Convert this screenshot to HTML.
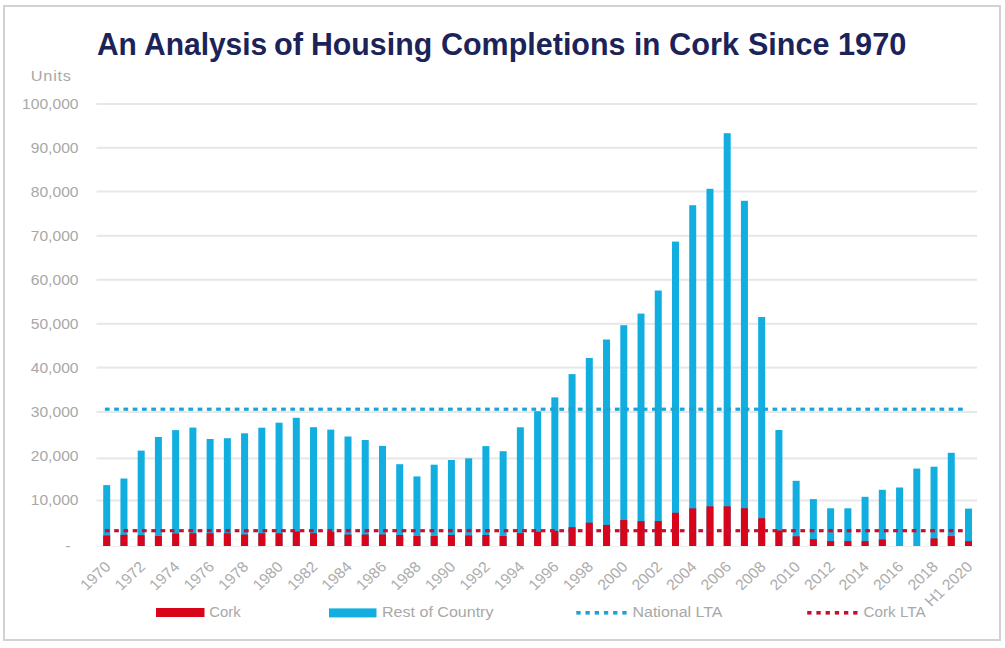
<!DOCTYPE html>
<html><head><meta charset="utf-8"><style>
html,body{margin:0;padding:0;background:#fff;}
body{width:1005px;height:648px;position:relative;overflow:hidden;font-family:"Liberation Sans",sans-serif;}
.frame{position:absolute;left:3px;top:5px;width:994px;height:632px;border:2px solid #d2d2d2;}
.tw{position:absolute;top:28.1px;font-size:31.2px;font-weight:bold;color:#1b2358;white-space:nowrap;line-height:34px;transform-origin:0 0;}
svg{position:absolute;left:0;top:0;}
.yl{font-size:14.8px;fill:#a8a8a8;}
.xl{font-size:14.8px;fill:#acacac;}
.lg{font-size:15.3px;fill:#a8a8a8;}
</style></head><body>
<div class="frame"></div>
<svg width="1005" height="648" viewBox="0 0 1005 648">
<rect x="96.5" y="499.50" width="880.5" height="2" fill="#e7e7e7"/>
<rect x="96.5" y="457.40" width="880.5" height="2" fill="#e7e7e7"/>
<rect x="96.5" y="411.00" width="880.5" height="2" fill="#e7e7e7"/>
<rect x="96.5" y="366.60" width="880.5" height="2" fill="#e7e7e7"/>
<rect x="96.5" y="322.80" width="880.5" height="2" fill="#e7e7e7"/>
<rect x="96.5" y="278.80" width="880.5" height="2" fill="#e7e7e7"/>
<rect x="96.5" y="234.80" width="880.5" height="2" fill="#e7e7e7"/>
<rect x="96.5" y="190.50" width="880.5" height="2" fill="#e7e7e7"/>
<rect x="96.5" y="146.80" width="880.5" height="2" fill="#e7e7e7"/>
<rect x="96.5" y="103.00" width="880.5" height="2" fill="#e7e7e7"/>
<rect x="96.5" y="546.00" width="880.5" height="1" fill="#f0f0f0"/>
<text x="0" y="0" class="yl" text-anchor="end" transform="translate(78.5 505.40) scale(1.055 1)">10,000</text>
<text x="0" y="0" class="yl" text-anchor="end" transform="translate(78.5 461.30) scale(1.055 1)">20,000</text>
<text x="0" y="0" class="yl" text-anchor="end" transform="translate(78.5 417.20) scale(1.055 1)">30,000</text>
<text x="0" y="0" class="yl" text-anchor="end" transform="translate(78.5 373.10) scale(1.055 1)">40,000</text>
<text x="0" y="0" class="yl" text-anchor="end" transform="translate(78.5 329.00) scale(1.055 1)">50,000</text>
<text x="0" y="0" class="yl" text-anchor="end" transform="translate(78.5 284.90) scale(1.055 1)">60,000</text>
<text x="0" y="0" class="yl" text-anchor="end" transform="translate(78.5 240.80) scale(1.055 1)">70,000</text>
<text x="0" y="0" class="yl" text-anchor="end" transform="translate(78.5 196.70) scale(1.055 1)">80,000</text>
<text x="0" y="0" class="yl" text-anchor="end" transform="translate(78.5 152.60) scale(1.055 1)">90,000</text>
<text x="0" y="0" class="yl" text-anchor="end" transform="translate(78.5 108.50) scale(1.055 1)">100,000</text>
<text x="70.5" y="550.5" class="yl" text-anchor="end">-</text>
<text x="0" y="0" class="yl" transform="translate(30.8 80.6) scale(1.1 1)" style="letter-spacing:0.7px">Units</text>
<rect x="103.20" y="485.10" width="7.0" height="60.90" fill="#12aee0"/>
<rect x="103.20" y="535.50" width="7.0" height="10.50" fill="#d8041a"/>
<rect x="120.44" y="478.50" width="7.0" height="67.50" fill="#12aee0"/>
<rect x="120.44" y="534.80" width="7.0" height="11.20" fill="#d8041a"/>
<rect x="137.67" y="450.60" width="7.0" height="95.40" fill="#12aee0"/>
<rect x="137.67" y="535.20" width="7.0" height="10.80" fill="#d8041a"/>
<rect x="154.91" y="437.00" width="7.0" height="109.00" fill="#12aee0"/>
<rect x="154.91" y="536.00" width="7.0" height="10.00" fill="#d8041a"/>
<rect x="172.14" y="430.10" width="7.0" height="115.90" fill="#12aee0"/>
<rect x="172.14" y="533.50" width="7.0" height="12.50" fill="#d8041a"/>
<rect x="189.38" y="427.60" width="7.0" height="118.40" fill="#12aee0"/>
<rect x="189.38" y="533.30" width="7.0" height="12.70" fill="#d8041a"/>
<rect x="206.62" y="439.00" width="7.0" height="107.00" fill="#12aee0"/>
<rect x="206.62" y="533.30" width="7.0" height="12.70" fill="#d8041a"/>
<rect x="223.85" y="438.20" width="7.0" height="107.80" fill="#12aee0"/>
<rect x="223.85" y="533.30" width="7.0" height="12.70" fill="#d8041a"/>
<rect x="241.09" y="433.30" width="7.0" height="112.70" fill="#12aee0"/>
<rect x="241.09" y="534.60" width="7.0" height="11.40" fill="#d8041a"/>
<rect x="258.32" y="427.70" width="7.0" height="118.30" fill="#12aee0"/>
<rect x="258.32" y="533.30" width="7.0" height="12.70" fill="#d8041a"/>
<rect x="275.56" y="422.70" width="7.0" height="123.30" fill="#12aee0"/>
<rect x="275.56" y="533.30" width="7.0" height="12.70" fill="#d8041a"/>
<rect x="292.80" y="417.80" width="7.0" height="128.20" fill="#12aee0"/>
<rect x="292.80" y="531.50" width="7.0" height="14.50" fill="#d8041a"/>
<rect x="310.03" y="427.20" width="7.0" height="118.80" fill="#12aee0"/>
<rect x="310.03" y="533.30" width="7.0" height="12.70" fill="#d8041a"/>
<rect x="327.27" y="429.60" width="7.0" height="116.40" fill="#12aee0"/>
<rect x="327.27" y="532.00" width="7.0" height="14.00" fill="#d8041a"/>
<rect x="344.50" y="436.50" width="7.0" height="109.50" fill="#12aee0"/>
<rect x="344.50" y="534.60" width="7.0" height="11.40" fill="#d8041a"/>
<rect x="361.74" y="440.00" width="7.0" height="106.00" fill="#12aee0"/>
<rect x="361.74" y="534.60" width="7.0" height="11.40" fill="#d8041a"/>
<rect x="378.98" y="445.90" width="7.0" height="100.10" fill="#12aee0"/>
<rect x="378.98" y="534.50" width="7.0" height="11.50" fill="#d8041a"/>
<rect x="396.21" y="464.20" width="7.0" height="81.80" fill="#12aee0"/>
<rect x="396.21" y="535.00" width="7.0" height="11.00" fill="#d8041a"/>
<rect x="413.45" y="476.40" width="7.0" height="69.60" fill="#12aee0"/>
<rect x="413.45" y="536.00" width="7.0" height="10.00" fill="#d8041a"/>
<rect x="430.68" y="464.70" width="7.0" height="81.30" fill="#12aee0"/>
<rect x="430.68" y="536.00" width="7.0" height="10.00" fill="#d8041a"/>
<rect x="447.92" y="460.00" width="7.0" height="86.00" fill="#12aee0"/>
<rect x="447.92" y="535.00" width="7.0" height="11.00" fill="#d8041a"/>
<rect x="465.16" y="458.30" width="7.0" height="87.70" fill="#12aee0"/>
<rect x="465.16" y="535.50" width="7.0" height="10.50" fill="#d8041a"/>
<rect x="482.39" y="446.10" width="7.0" height="99.90" fill="#12aee0"/>
<rect x="482.39" y="535.00" width="7.0" height="11.00" fill="#d8041a"/>
<rect x="499.63" y="451.20" width="7.0" height="94.80" fill="#12aee0"/>
<rect x="499.63" y="536.00" width="7.0" height="10.00" fill="#d8041a"/>
<rect x="516.86" y="427.30" width="7.0" height="118.70" fill="#12aee0"/>
<rect x="516.86" y="533.20" width="7.0" height="12.80" fill="#d8041a"/>
<rect x="534.10" y="411.20" width="7.0" height="134.80" fill="#12aee0"/>
<rect x="534.10" y="531.80" width="7.0" height="14.20" fill="#d8041a"/>
<rect x="551.34" y="397.40" width="7.0" height="148.60" fill="#12aee0"/>
<rect x="551.34" y="530.80" width="7.0" height="15.20" fill="#d8041a"/>
<rect x="568.57" y="374.10" width="7.0" height="171.90" fill="#12aee0"/>
<rect x="568.57" y="527.20" width="7.0" height="18.80" fill="#d8041a"/>
<rect x="585.81" y="358.00" width="7.0" height="188.00" fill="#12aee0"/>
<rect x="585.81" y="522.70" width="7.0" height="23.30" fill="#d8041a"/>
<rect x="603.04" y="339.50" width="7.0" height="206.50" fill="#12aee0"/>
<rect x="603.04" y="524.90" width="7.0" height="21.10" fill="#d8041a"/>
<rect x="620.28" y="325.20" width="7.0" height="220.80" fill="#12aee0"/>
<rect x="620.28" y="520.00" width="7.0" height="26.00" fill="#d8041a"/>
<rect x="637.52" y="313.60" width="7.0" height="232.40" fill="#12aee0"/>
<rect x="637.52" y="521.10" width="7.0" height="24.90" fill="#d8041a"/>
<rect x="654.75" y="290.50" width="7.0" height="255.50" fill="#12aee0"/>
<rect x="654.75" y="521.10" width="7.0" height="24.90" fill="#d8041a"/>
<rect x="671.99" y="241.60" width="7.0" height="304.40" fill="#12aee0"/>
<rect x="671.99" y="512.80" width="7.0" height="33.20" fill="#d8041a"/>
<rect x="689.22" y="205.20" width="7.0" height="340.80" fill="#12aee0"/>
<rect x="689.22" y="508.40" width="7.0" height="37.60" fill="#d8041a"/>
<rect x="706.46" y="188.80" width="7.0" height="357.20" fill="#12aee0"/>
<rect x="706.46" y="506.30" width="7.0" height="39.70" fill="#d8041a"/>
<rect x="723.70" y="133.20" width="7.0" height="412.80" fill="#12aee0"/>
<rect x="723.70" y="506.30" width="7.0" height="39.70" fill="#d8041a"/>
<rect x="740.93" y="200.80" width="7.0" height="345.20" fill="#12aee0"/>
<rect x="740.93" y="508.20" width="7.0" height="37.80" fill="#d8041a"/>
<rect x="758.17" y="317.00" width="7.0" height="229.00" fill="#12aee0"/>
<rect x="758.17" y="518.20" width="7.0" height="27.80" fill="#d8041a"/>
<rect x="775.40" y="430.00" width="7.0" height="116.00" fill="#12aee0"/>
<rect x="775.40" y="530.50" width="7.0" height="15.50" fill="#d8041a"/>
<rect x="792.64" y="480.80" width="7.0" height="65.20" fill="#12aee0"/>
<rect x="792.64" y="536.30" width="7.0" height="9.70" fill="#d8041a"/>
<rect x="809.88" y="499.10" width="7.0" height="46.90" fill="#12aee0"/>
<rect x="809.88" y="539.20" width="7.0" height="6.80" fill="#d8041a"/>
<rect x="827.11" y="508.30" width="7.0" height="37.70" fill="#12aee0"/>
<rect x="827.11" y="541.10" width="7.0" height="4.90" fill="#d8041a"/>
<rect x="844.35" y="508.30" width="7.0" height="37.70" fill="#12aee0"/>
<rect x="844.35" y="541.10" width="7.0" height="4.90" fill="#d8041a"/>
<rect x="861.58" y="496.80" width="7.0" height="49.20" fill="#12aee0"/>
<rect x="861.58" y="541.10" width="7.0" height="4.90" fill="#d8041a"/>
<rect x="878.82" y="489.80" width="7.0" height="56.20" fill="#12aee0"/>
<rect x="878.82" y="539.50" width="7.0" height="6.50" fill="#d8041a"/>
<rect x="896.06" y="487.50" width="7.0" height="58.50" fill="#12aee0"/>
<rect x="913.29" y="468.60" width="7.0" height="77.40" fill="#12aee0"/>
<rect x="930.53" y="466.70" width="7.0" height="79.30" fill="#12aee0"/>
<rect x="930.53" y="538.40" width="7.0" height="7.60" fill="#d8041a"/>
<rect x="947.76" y="452.80" width="7.0" height="93.20" fill="#12aee0"/>
<rect x="947.76" y="536.10" width="7.0" height="9.90" fill="#d8041a"/>
<rect x="965.00" y="508.60" width="7.0" height="37.40" fill="#12aee0"/>
<rect x="965.00" y="541.20" width="7.0" height="4.80" fill="#d8041a"/>
<rect x="104.90" y="407.60" width="4.7" height="3.2" fill="#1aa3d6"/><rect x="114.17" y="407.60" width="4.7" height="3.2" fill="#1aa3d6"/><rect x="123.45" y="407.60" width="4.7" height="3.2" fill="#1aa3d6"/><rect x="132.72" y="407.60" width="4.7" height="3.2" fill="#1aa3d6"/><rect x="141.99" y="407.60" width="4.7" height="3.2" fill="#1aa3d6"/><rect x="151.26" y="407.60" width="4.7" height="3.2" fill="#1aa3d6"/><rect x="160.54" y="407.60" width="4.7" height="3.2" fill="#1aa3d6"/><rect x="169.81" y="407.60" width="4.7" height="3.2" fill="#1aa3d6"/><rect x="179.08" y="407.60" width="4.7" height="3.2" fill="#1aa3d6"/><rect x="188.36" y="407.60" width="4.7" height="3.2" fill="#1aa3d6"/><rect x="197.63" y="407.60" width="4.7" height="3.2" fill="#1aa3d6"/><rect x="206.90" y="407.60" width="4.7" height="3.2" fill="#1aa3d6"/><rect x="216.18" y="407.60" width="4.7" height="3.2" fill="#1aa3d6"/><rect x="225.45" y="407.60" width="4.7" height="3.2" fill="#1aa3d6"/><rect x="234.72" y="407.60" width="4.7" height="3.2" fill="#1aa3d6"/><rect x="244.00" y="407.60" width="4.7" height="3.2" fill="#1aa3d6"/><rect x="253.27" y="407.60" width="4.7" height="3.2" fill="#1aa3d6"/><rect x="262.54" y="407.60" width="4.7" height="3.2" fill="#1aa3d6"/><rect x="271.81" y="407.60" width="4.7" height="3.2" fill="#1aa3d6"/><rect x="281.09" y="407.60" width="4.7" height="3.2" fill="#1aa3d6"/><rect x="290.36" y="407.60" width="4.7" height="3.2" fill="#1aa3d6"/><rect x="299.63" y="407.60" width="4.7" height="3.2" fill="#1aa3d6"/><rect x="308.91" y="407.60" width="4.7" height="3.2" fill="#1aa3d6"/><rect x="318.18" y="407.60" width="4.7" height="3.2" fill="#1aa3d6"/><rect x="327.45" y="407.60" width="4.7" height="3.2" fill="#1aa3d6"/><rect x="336.73" y="407.60" width="4.7" height="3.2" fill="#1aa3d6"/><rect x="346.00" y="407.60" width="4.7" height="3.2" fill="#1aa3d6"/><rect x="355.27" y="407.60" width="4.7" height="3.2" fill="#1aa3d6"/><rect x="364.54" y="407.60" width="4.7" height="3.2" fill="#1aa3d6"/><rect x="373.82" y="407.60" width="4.7" height="3.2" fill="#1aa3d6"/><rect x="383.09" y="407.60" width="4.7" height="3.2" fill="#1aa3d6"/><rect x="392.36" y="407.60" width="4.7" height="3.2" fill="#1aa3d6"/><rect x="401.64" y="407.60" width="4.7" height="3.2" fill="#1aa3d6"/><rect x="410.91" y="407.60" width="4.7" height="3.2" fill="#1aa3d6"/><rect x="420.18" y="407.60" width="4.7" height="3.2" fill="#1aa3d6"/><rect x="429.46" y="407.60" width="4.7" height="3.2" fill="#1aa3d6"/><rect x="438.73" y="407.60" width="4.7" height="3.2" fill="#1aa3d6"/><rect x="448.00" y="407.60" width="4.7" height="3.2" fill="#1aa3d6"/><rect x="457.27" y="407.60" width="4.7" height="3.2" fill="#1aa3d6"/><rect x="466.55" y="407.60" width="4.7" height="3.2" fill="#1aa3d6"/><rect x="475.82" y="407.60" width="4.7" height="3.2" fill="#1aa3d6"/><rect x="485.09" y="407.60" width="4.7" height="3.2" fill="#1aa3d6"/><rect x="494.37" y="407.60" width="4.7" height="3.2" fill="#1aa3d6"/><rect x="503.64" y="407.60" width="4.7" height="3.2" fill="#1aa3d6"/><rect x="512.91" y="407.60" width="4.7" height="3.2" fill="#1aa3d6"/><rect x="522.18" y="407.60" width="4.7" height="3.2" fill="#1aa3d6"/><rect x="531.46" y="407.60" width="4.7" height="3.2" fill="#1aa3d6"/><rect x="540.73" y="407.60" width="4.7" height="3.2" fill="#1aa3d6"/><rect x="550.00" y="407.60" width="4.7" height="3.2" fill="#1aa3d6"/><rect x="559.28" y="407.60" width="4.7" height="3.2" fill="#1aa3d6"/><rect x="568.55" y="407.60" width="4.7" height="3.2" fill="#1aa3d6"/><rect x="577.82" y="407.60" width="4.7" height="3.2" fill="#1aa3d6"/><rect x="587.10" y="407.60" width="4.7" height="3.2" fill="#1aa3d6"/><rect x="596.37" y="407.60" width="4.7" height="3.2" fill="#1aa3d6"/><rect x="605.64" y="407.60" width="4.7" height="3.2" fill="#1aa3d6"/><rect x="614.91" y="407.60" width="4.7" height="3.2" fill="#1aa3d6"/><rect x="624.19" y="407.60" width="4.7" height="3.2" fill="#1aa3d6"/><rect x="633.46" y="407.60" width="4.7" height="3.2" fill="#1aa3d6"/><rect x="642.73" y="407.60" width="4.7" height="3.2" fill="#1aa3d6"/><rect x="652.01" y="407.60" width="4.7" height="3.2" fill="#1aa3d6"/><rect x="661.28" y="407.60" width="4.7" height="3.2" fill="#1aa3d6"/><rect x="670.55" y="407.60" width="4.7" height="3.2" fill="#1aa3d6"/><rect x="679.83" y="407.60" width="4.7" height="3.2" fill="#1aa3d6"/><rect x="689.10" y="407.60" width="4.7" height="3.2" fill="#1aa3d6"/><rect x="698.37" y="407.60" width="4.7" height="3.2" fill="#1aa3d6"/><rect x="707.64" y="407.60" width="4.7" height="3.2" fill="#1aa3d6"/><rect x="716.92" y="407.60" width="4.7" height="3.2" fill="#1aa3d6"/><rect x="726.19" y="407.60" width="4.7" height="3.2" fill="#1aa3d6"/><rect x="735.46" y="407.60" width="4.7" height="3.2" fill="#1aa3d6"/><rect x="744.74" y="407.60" width="4.7" height="3.2" fill="#1aa3d6"/><rect x="754.01" y="407.60" width="4.7" height="3.2" fill="#1aa3d6"/><rect x="763.28" y="407.60" width="4.7" height="3.2" fill="#1aa3d6"/><rect x="772.56" y="407.60" width="4.7" height="3.2" fill="#1aa3d6"/><rect x="781.83" y="407.60" width="4.7" height="3.2" fill="#1aa3d6"/><rect x="791.10" y="407.60" width="4.7" height="3.2" fill="#1aa3d6"/><rect x="800.38" y="407.60" width="4.7" height="3.2" fill="#1aa3d6"/><rect x="809.65" y="407.60" width="4.7" height="3.2" fill="#1aa3d6"/><rect x="818.92" y="407.60" width="4.7" height="3.2" fill="#1aa3d6"/><rect x="828.19" y="407.60" width="4.7" height="3.2" fill="#1aa3d6"/><rect x="837.47" y="407.60" width="4.7" height="3.2" fill="#1aa3d6"/><rect x="846.74" y="407.60" width="4.7" height="3.2" fill="#1aa3d6"/><rect x="856.01" y="407.60" width="4.7" height="3.2" fill="#1aa3d6"/><rect x="865.29" y="407.60" width="4.7" height="3.2" fill="#1aa3d6"/><rect x="874.56" y="407.60" width="4.7" height="3.2" fill="#1aa3d6"/><rect x="883.83" y="407.60" width="4.7" height="3.2" fill="#1aa3d6"/><rect x="893.10" y="407.60" width="4.7" height="3.2" fill="#1aa3d6"/><rect x="902.38" y="407.60" width="4.7" height="3.2" fill="#1aa3d6"/><rect x="911.65" y="407.60" width="4.7" height="3.2" fill="#1aa3d6"/><rect x="920.92" y="407.60" width="4.7" height="3.2" fill="#1aa3d6"/><rect x="930.20" y="407.60" width="4.7" height="3.2" fill="#1aa3d6"/><rect x="939.47" y="407.60" width="4.7" height="3.2" fill="#1aa3d6"/><rect x="948.74" y="407.60" width="4.7" height="3.2" fill="#1aa3d6"/><rect x="958.02" y="407.60" width="4.7" height="3.2" fill="#1aa3d6"/>
<rect x="104.90" y="529.10" width="4.7" height="3.2" fill="#c8102e"/><rect x="114.17" y="529.10" width="4.7" height="3.2" fill="#c8102e"/><rect x="123.45" y="529.10" width="4.7" height="3.2" fill="#c8102e"/><rect x="132.72" y="529.10" width="4.7" height="3.2" fill="#c8102e"/><rect x="141.99" y="529.10" width="4.7" height="3.2" fill="#c8102e"/><rect x="151.26" y="529.10" width="4.7" height="3.2" fill="#c8102e"/><rect x="160.54" y="529.10" width="4.7" height="3.2" fill="#c8102e"/><rect x="169.81" y="529.10" width="4.7" height="3.2" fill="#c8102e"/><rect x="179.08" y="529.10" width="4.7" height="3.2" fill="#c8102e"/><rect x="188.36" y="529.10" width="4.7" height="3.2" fill="#c8102e"/><rect x="197.63" y="529.10" width="4.7" height="3.2" fill="#c8102e"/><rect x="206.90" y="529.10" width="4.7" height="3.2" fill="#c8102e"/><rect x="216.18" y="529.10" width="4.7" height="3.2" fill="#c8102e"/><rect x="225.45" y="529.10" width="4.7" height="3.2" fill="#c8102e"/><rect x="234.72" y="529.10" width="4.7" height="3.2" fill="#c8102e"/><rect x="244.00" y="529.10" width="4.7" height="3.2" fill="#c8102e"/><rect x="253.27" y="529.10" width="4.7" height="3.2" fill="#c8102e"/><rect x="262.54" y="529.10" width="4.7" height="3.2" fill="#c8102e"/><rect x="271.81" y="529.10" width="4.7" height="3.2" fill="#c8102e"/><rect x="281.09" y="529.10" width="4.7" height="3.2" fill="#c8102e"/><rect x="290.36" y="529.10" width="4.7" height="3.2" fill="#c8102e"/><rect x="299.63" y="529.10" width="4.7" height="3.2" fill="#c8102e"/><rect x="308.91" y="529.10" width="4.7" height="3.2" fill="#c8102e"/><rect x="318.18" y="529.10" width="4.7" height="3.2" fill="#c8102e"/><rect x="327.45" y="529.10" width="4.7" height="3.2" fill="#c8102e"/><rect x="336.73" y="529.10" width="4.7" height="3.2" fill="#c8102e"/><rect x="346.00" y="529.10" width="4.7" height="3.2" fill="#c8102e"/><rect x="355.27" y="529.10" width="4.7" height="3.2" fill="#c8102e"/><rect x="364.54" y="529.10" width="4.7" height="3.2" fill="#c8102e"/><rect x="373.82" y="529.10" width="4.7" height="3.2" fill="#c8102e"/><rect x="383.09" y="529.10" width="4.7" height="3.2" fill="#c8102e"/><rect x="392.36" y="529.10" width="4.7" height="3.2" fill="#c8102e"/><rect x="401.64" y="529.10" width="4.7" height="3.2" fill="#c8102e"/><rect x="410.91" y="529.10" width="4.7" height="3.2" fill="#c8102e"/><rect x="420.18" y="529.10" width="4.7" height="3.2" fill="#c8102e"/><rect x="429.46" y="529.10" width="4.7" height="3.2" fill="#c8102e"/><rect x="438.73" y="529.10" width="4.7" height="3.2" fill="#c8102e"/><rect x="448.00" y="529.10" width="4.7" height="3.2" fill="#c8102e"/><rect x="457.27" y="529.10" width="4.7" height="3.2" fill="#c8102e"/><rect x="466.55" y="529.10" width="4.7" height="3.2" fill="#c8102e"/><rect x="475.82" y="529.10" width="4.7" height="3.2" fill="#c8102e"/><rect x="485.09" y="529.10" width="4.7" height="3.2" fill="#c8102e"/><rect x="494.37" y="529.10" width="4.7" height="3.2" fill="#c8102e"/><rect x="503.64" y="529.10" width="4.7" height="3.2" fill="#c8102e"/><rect x="512.91" y="529.10" width="4.7" height="3.2" fill="#c8102e"/><rect x="522.18" y="529.10" width="4.7" height="3.2" fill="#c8102e"/><rect x="531.46" y="529.10" width="4.7" height="3.2" fill="#c8102e"/><rect x="540.73" y="529.10" width="4.7" height="3.2" fill="#c8102e"/><rect x="550.00" y="529.10" width="4.7" height="3.2" fill="#c8102e"/><rect x="559.28" y="529.10" width="4.7" height="3.2" fill="#c8102e"/><rect x="568.55" y="529.10" width="4.7" height="3.2" fill="#c8102e"/><rect x="577.82" y="529.10" width="4.7" height="3.2" fill="#c8102e"/><rect x="587.10" y="529.10" width="4.7" height="3.2" fill="#c8102e"/><rect x="596.37" y="529.10" width="4.7" height="3.2" fill="#c8102e"/><rect x="605.64" y="529.10" width="4.7" height="3.2" fill="#c8102e"/><rect x="614.91" y="529.10" width="4.7" height="3.2" fill="#c8102e"/><rect x="624.19" y="529.10" width="4.7" height="3.2" fill="#c8102e"/><rect x="633.46" y="529.10" width="4.7" height="3.2" fill="#c8102e"/><rect x="642.73" y="529.10" width="4.7" height="3.2" fill="#c8102e"/><rect x="652.01" y="529.10" width="4.7" height="3.2" fill="#c8102e"/><rect x="661.28" y="529.10" width="4.7" height="3.2" fill="#c8102e"/><rect x="670.55" y="529.10" width="4.7" height="3.2" fill="#c8102e"/><rect x="679.83" y="529.10" width="4.7" height="3.2" fill="#c8102e"/><rect x="689.10" y="529.10" width="4.7" height="3.2" fill="#c8102e"/><rect x="698.37" y="529.10" width="4.7" height="3.2" fill="#c8102e"/><rect x="707.64" y="529.10" width="4.7" height="3.2" fill="#c8102e"/><rect x="716.92" y="529.10" width="4.7" height="3.2" fill="#c8102e"/><rect x="726.19" y="529.10" width="4.7" height="3.2" fill="#c8102e"/><rect x="735.46" y="529.10" width="4.7" height="3.2" fill="#c8102e"/><rect x="744.74" y="529.10" width="4.7" height="3.2" fill="#c8102e"/><rect x="754.01" y="529.10" width="4.7" height="3.2" fill="#c8102e"/><rect x="763.28" y="529.10" width="4.7" height="3.2" fill="#c8102e"/><rect x="772.56" y="529.10" width="4.7" height="3.2" fill="#c8102e"/><rect x="781.83" y="529.10" width="4.7" height="3.2" fill="#c8102e"/><rect x="791.10" y="529.10" width="4.7" height="3.2" fill="#c8102e"/><rect x="800.38" y="529.10" width="4.7" height="3.2" fill="#c8102e"/><rect x="809.65" y="529.10" width="4.7" height="3.2" fill="#c8102e"/><rect x="818.92" y="529.10" width="4.7" height="3.2" fill="#c8102e"/><rect x="828.19" y="529.10" width="4.7" height="3.2" fill="#c8102e"/><rect x="837.47" y="529.10" width="4.7" height="3.2" fill="#c8102e"/><rect x="846.74" y="529.10" width="4.7" height="3.2" fill="#c8102e"/><rect x="856.01" y="529.10" width="4.7" height="3.2" fill="#c8102e"/><rect x="865.29" y="529.10" width="4.7" height="3.2" fill="#c8102e"/><rect x="874.56" y="529.10" width="4.7" height="3.2" fill="#c8102e"/><rect x="883.83" y="529.10" width="4.7" height="3.2" fill="#c8102e"/><rect x="893.10" y="529.10" width="4.7" height="3.2" fill="#c8102e"/><rect x="902.38" y="529.10" width="4.7" height="3.2" fill="#c8102e"/><rect x="911.65" y="529.10" width="4.7" height="3.2" fill="#c8102e"/><rect x="920.92" y="529.10" width="4.7" height="3.2" fill="#c8102e"/><rect x="930.20" y="529.10" width="4.7" height="3.2" fill="#c8102e"/><rect x="939.47" y="529.10" width="4.7" height="3.2" fill="#c8102e"/><rect x="948.74" y="529.10" width="4.7" height="3.2" fill="#c8102e"/><rect x="958.02" y="529.10" width="4.7" height="3.2" fill="#c8102e"/>
<text x="0" y="0" class="xl" text-anchor="end" transform="translate(111.70 567.80) scale(1.07 1) rotate(-45)">1970</text>
<text x="0" y="0" class="xl" text-anchor="end" transform="translate(146.17 567.80) scale(1.07 1) rotate(-45)">1972</text>
<text x="0" y="0" class="xl" text-anchor="end" transform="translate(180.64 567.80) scale(1.07 1) rotate(-45)">1974</text>
<text x="0" y="0" class="xl" text-anchor="end" transform="translate(215.12 567.80) scale(1.07 1) rotate(-45)">1976</text>
<text x="0" y="0" class="xl" text-anchor="end" transform="translate(249.59 567.80) scale(1.07 1) rotate(-45)">1978</text>
<text x="0" y="0" class="xl" text-anchor="end" transform="translate(284.06 567.80) scale(1.07 1) rotate(-45)">1980</text>
<text x="0" y="0" class="xl" text-anchor="end" transform="translate(318.53 567.80) scale(1.07 1) rotate(-45)">1982</text>
<text x="0" y="0" class="xl" text-anchor="end" transform="translate(353.00 567.80) scale(1.07 1) rotate(-45)">1984</text>
<text x="0" y="0" class="xl" text-anchor="end" transform="translate(387.48 567.80) scale(1.07 1) rotate(-45)">1986</text>
<text x="0" y="0" class="xl" text-anchor="end" transform="translate(421.95 567.80) scale(1.07 1) rotate(-45)">1988</text>
<text x="0" y="0" class="xl" text-anchor="end" transform="translate(456.42 567.80) scale(1.07 1) rotate(-45)">1990</text>
<text x="0" y="0" class="xl" text-anchor="end" transform="translate(490.89 567.80) scale(1.07 1) rotate(-45)">1992</text>
<text x="0" y="0" class="xl" text-anchor="end" transform="translate(525.36 567.80) scale(1.07 1) rotate(-45)">1994</text>
<text x="0" y="0" class="xl" text-anchor="end" transform="translate(559.84 567.80) scale(1.07 1) rotate(-45)">1996</text>
<text x="0" y="0" class="xl" text-anchor="end" transform="translate(594.31 567.80) scale(1.07 1) rotate(-45)">1998</text>
<text x="0" y="0" class="xl" text-anchor="end" transform="translate(628.78 567.80) scale(1.07 1) rotate(-45)">2000</text>
<text x="0" y="0" class="xl" text-anchor="end" transform="translate(663.25 567.80) scale(1.07 1) rotate(-45)">2002</text>
<text x="0" y="0" class="xl" text-anchor="end" transform="translate(697.72 567.80) scale(1.07 1) rotate(-45)">2004</text>
<text x="0" y="0" class="xl" text-anchor="end" transform="translate(732.20 567.80) scale(1.07 1) rotate(-45)">2006</text>
<text x="0" y="0" class="xl" text-anchor="end" transform="translate(766.67 567.80) scale(1.07 1) rotate(-45)">2008</text>
<text x="0" y="0" class="xl" text-anchor="end" transform="translate(801.14 567.80) scale(1.07 1) rotate(-45)">2010</text>
<text x="0" y="0" class="xl" text-anchor="end" transform="translate(835.61 567.80) scale(1.07 1) rotate(-45)">2012</text>
<text x="0" y="0" class="xl" text-anchor="end" transform="translate(870.08 567.80) scale(1.07 1) rotate(-45)">2014</text>
<text x="0" y="0" class="xl" text-anchor="end" transform="translate(904.56 567.80) scale(1.07 1) rotate(-45)">2016</text>
<text x="0" y="0" class="xl" text-anchor="end" transform="translate(939.03 567.80) scale(1.07 1) rotate(-45)">2018</text>
<text x="0" y="0" class="xl" text-anchor="end" transform="translate(973.50 567.80) scale(1.07 1) rotate(-45)">H1 2020</text>
<rect x="156" y="608" width="48.5" height="9" fill="#d8041a"/>
<text x="209.3" y="617" class="lg" textLength="31.5" lengthAdjust="spacingAndGlyphs">Cork</text>
<rect x="329" y="608.4" width="47.5" height="9" fill="#12aee0"/>
<text x="382" y="617" class="lg" textLength="111.5" lengthAdjust="spacingAndGlyphs">Rest of Country</text>
<rect x="576.30" y="611" width="4.3" height="3.6" fill="#1aa3d6"/>
<rect x="585.50" y="611" width="4.3" height="3.6" fill="#1aa3d6"/>
<rect x="594.70" y="611" width="4.3" height="3.6" fill="#1aa3d6"/>
<rect x="603.90" y="611" width="4.3" height="3.6" fill="#1aa3d6"/>
<rect x="613.10" y="611" width="4.3" height="3.6" fill="#1aa3d6"/>
<rect x="622.30" y="611" width="4.3" height="3.6" fill="#1aa3d6"/>
<text x="632.5" y="617" class="lg" textLength="90" lengthAdjust="spacingAndGlyphs">National LTA</text>
<rect x="807.20" y="611" width="4.3" height="3.6" fill="#c8102e"/>
<rect x="816.40" y="611" width="4.3" height="3.6" fill="#c8102e"/>
<rect x="825.60" y="611" width="4.3" height="3.6" fill="#c8102e"/>
<rect x="834.80" y="611" width="4.3" height="3.6" fill="#c8102e"/>
<rect x="844.00" y="611" width="4.3" height="3.6" fill="#c8102e"/>
<rect x="853.20" y="611" width="4.3" height="3.6" fill="#c8102e"/>
<text x="863.6" y="617" class="lg" textLength="62" lengthAdjust="spacingAndGlyphs">Cork LTA</text>
</svg>
<div class="tw" style="left:96.74px;transform:scaleX(0.9590)">An</div>
<div class="tw" style="left:143.64px;transform:scaleX(0.9611)">Analysis</div>
<div class="tw" style="left:274.48px;transform:scaleX(0.9850)">of</div>
<div class="tw" style="left:311.36px;transform:scaleX(0.9711)">Housing</div>
<div class="tw" style="left:441.12px;transform:scaleX(0.9770)">Completions</div>
<div class="tw" style="left:634.00px;transform:scaleX(0.9500)">in</div>
<div class="tw" style="left:669.04px;transform:scaleX(0.9850)">Cork</div>
<div class="tw" style="left:747.82px;transform:scaleX(0.9778)">Since</div>
<div class="tw" style="left:837.77px;transform:scaleX(0.9850)">1970</div>
</body></html>
